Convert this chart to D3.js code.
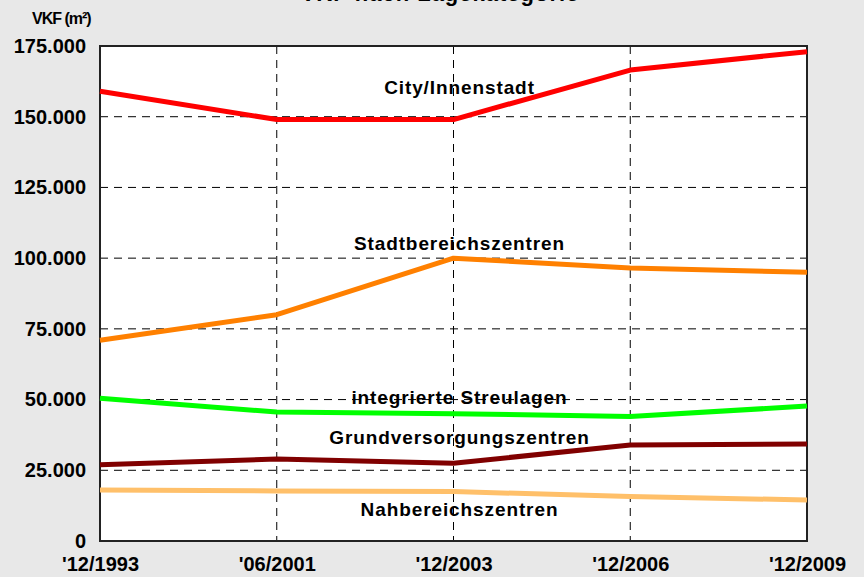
<!DOCTYPE html>
<html>
<head>
<meta charset="utf-8">
<script src="https://cdn.jsdelivr.net/npm/d3@7"></script>
<style>
  body { margin: 0; background: #e8e8e8; }
  svg { display: block; font-family: 'Liberation Sans', Arial, sans-serif; font-weight: bold; }
</style>
</head>
<body>
<div id="chart"></div>
<script>
// periods on the x axis
const periods = ["'12/1993", "'06/2001", "'12/2003", "'12/2006", "'12/2009"];

// VKF in m² per location category
const cityInnenstadt = [159000, 149000, 149000, 166500, 173000];
const stadtbereichszentren = [71000, 80000, 100000, 96500, 95000];
const integrierteStreulagen = [50500, 45600, 45000, 44000, 47700];
const grundversorgungszentren = [27000, 29000, 27500, 33900, 34300];
const nahbereichszentren = [18000, 17700, 17500, 15700, 14500];

const yTicks = [0, 25000, 50000, 75000, 100000, 125000, 150000, 175000];

const series = [
  { name: 'City/Innenstadt', values: cityInnenstadt, color: '#ff0000', labelAt: 158000 },
  { name: 'Stadtbereichszentren', values: stadtbereichszentren, color: '#ff8000', labelAt: 102900 },
  { name: 'integrierte Streulagen', values: integrierteStreulagen, color: '#00ff00', labelAt: 48400 },
  { name: 'Grundversorgungszentren', values: grundversorgungszentren, color: '#800000', labelAt: 34300 },
  { name: 'Nahbereichszentren', values: nahbereichszentren, color: '#ffc06a', labelAt: 8800 }
];

const width = 864, height = 577;
const margin = { top: 46, right: 57, bottom: 36, left: 100 };
const w = width - margin.left - margin.right;
const h = height - margin.top - margin.bottom;

const svg = d3.select('#chart')
    .append('svg')
    .attr('width', width)
    .attr('height', height);

svg.append('rect')
    .attr('width', width)
    .attr('height', height)
    .attr('fill', '#e8e8e8');

// title, mostly cut off at the top edge
svg.append('text')
    .attr('x', 440)
    .attr('y', 1)
    .attr('text-anchor', 'middle')
    .attr('font-size', 22)
    .attr('letter-spacing', 1)
    .text('VKF nach Lagekategorie');

svg.append('text')
    .attr('x', 32)
    .attr('y', 24)
    .attr('font-size', 16)
    .attr('letter-spacing', -1)
    .text('VKF (m²)');

const g = svg.append('g')
    .attr('transform', 'translate(' + margin.left + ',' + margin.top + ')');

const x = d3.scalePoint()
    .domain(periods)
    .range([0, w]);

const y = d3.scaleLinear()
    .domain([0, 175000])
    .range([h, 0]);

g.append('rect')
    .attr('width', w)
    .attr('height', h)
    .attr('fill', '#fff');

// grid
g.append('g')
    .selectAll('line')
    .data(yTicks.slice(1, -1))
    .enter()
    .append('line')
    .attr('x1', 0).attr('x2', w)
    .attr('y1', d => y(d)).attr('y2', d => y(d))
    .attr('stroke', '#000')
    .attr('stroke-width', 1)
    .attr('stroke-dasharray', '8,6');

g.append('g')
    .selectAll('line')
    .data(periods.slice(1, -1))
    .enter()
    .append('line')
    .attr('x1', d => x(d)).attr('x2', d => x(d))
    .attr('y1', 0).attr('y2', h)
    .attr('stroke', '#000')
    .attr('stroke-width', 1)
    .attr('stroke-dasharray', '8,6');

g.append('rect')
    .attr('width', w)
    .attr('height', h)
    .attr('fill', 'none')
    .attr('stroke', '#222')
    .attr('stroke-width', 2);

// axes
const yAxis = g.append('g')
    .call(d3.axisLeft(y).tickValues(yTicks).tickSize(0).tickPadding(14)
      .tickFormat(d => d === 0 ? '0' : d3.format(',')(d).replace(/,/g, '.')));
yAxis.select('.domain').remove();
yAxis.selectAll('text')
    .attr('font-size', 20)
    .attr('font-family', "'Liberation Sans', Arial, sans-serif")
    .attr('font-weight', 'bold')
    .attr('fill', '#000');

const xAxis = g.append('g')
    .attr('transform', 'translate(0,' + h + ')')
    .call(d3.axisBottom(x).tickSize(0).tickPadding(16));
xAxis.select('.domain').remove();
xAxis.selectAll('text')
    .attr('font-size', 20)
    .attr('font-family', "'Liberation Sans', Arial, sans-serif")
    .attr('font-weight', 'bold')
    .attr('fill', '#000');

// lines
const line = d3.line()
    .x((d, i) => x(periods[i]))
    .y(d => y(d));

g.selectAll('path.series')
    .data(series)
    .enter()
    .append('path')
    .attr('class', 'series')
    .attr('d', d => line(d.values))
    .attr('fill', 'none')
    .attr('stroke', d => d.color)
    .attr('stroke-width', 5)
    .attr('stroke-linejoin', 'round');

// labels
g.selectAll('text.label')
    .data(series)
    .enter()
    .append('text')
    .attr('class', 'label')
    .attr('x', x(periods[2]) + 6)
    .attr('y', d => y(d.labelAt))
    .attr('text-anchor', 'middle')
    .attr('font-size', 19)
    .attr('letter-spacing', 0.9)
    .text(d => d.name);
</script>
</body>
</html>
